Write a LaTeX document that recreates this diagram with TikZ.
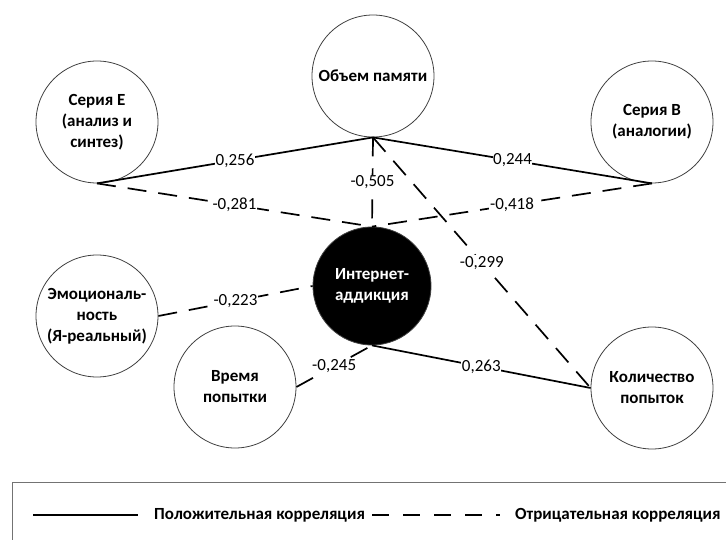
\documentclass[tikz,border=0pt]{standalone}
\usepackage{fontspec}
\setmainfont{Carlito}
\begin{document}
\begin{tikzpicture}[x=1pt,y=-1pt,
  factor/.style={circle,draw=black!75,line width=0.8pt,fill=white,minimum size=122pt,inner sep=0pt,align=center,font=\fontsize{17}{21}\selectfont\bfseries},
  addict/.style={factor,fill=black,text=white,minimum size=118pt},
  poscorr/.style={line width=1.7pt},
  negcorr/.style={line width=1.7pt,dash pattern=on 19pt off 12pt},
  coef/.style={fill=white,inner sep=0.6pt,font=\fontsize{17}{17}\selectfont},
  legendtext/.style={anchor=west,inner sep=0pt,font=\fontsize{17}{17}\selectfont\bfseries}]
\useasboundingbox (0,0) rectangle (726,540);
\clip (0,0) rectangle (726,540);
\node[factor] (seriesE) at (97,122) {Серия Е\\(анализ и\\синтез)};
\node[factor] (memory) at (373,76) {Объем памяти};
\node[factor] (seriesB) at (652,122) {Серия В\\(аналогии)};
\node[addict] (addict) at (372,286) {Интернет-\\аддикция};
\node[factor] (emotion) at (97,316) {Эмоциональ-\\ность\\(Я-реальный)};
\node[factor] (time) at (235,387) {Время\\попытки};
\node[factor] (tries) at (652,388) {Количество\\попыток};
\draw[poscorr] (seriesE.south) -- node[coef] {0,256} (memory.south);
\draw[poscorr] (memory.south) -- node[coef] {0,244} (seriesB.south);
\draw[negcorr] (seriesE.south) -- node[coef] {-0,281} (addict.north);
\draw[negcorr] (seriesB.south) -- node[coef] {-0,418} (addict.north);
\draw[negcorr] (memory.south) -- node[coef] {-0,505} (addict.north);
\draw[negcorr] (memory.south) -- node[coef] {-0,299} (tries.west);
\draw[negcorr] (emotion.east) -- node[coef] {-0,223} (addict.west);
\draw[negcorr] (time.east) -- node[coef] {-0,245} (addict.south);
\draw[poscorr] (addict.south) -- node[coef] {0,263} (tries.west);
% legend
\draw[black!55,line width=1pt] (12,482) rectangle (740,560);
\coordinate (posA) at (33,515);
\coordinate (posB) at (138,515);
\coordinate (negA) at (372,515);
\coordinate (negB) at (500,515);
\draw[poscorr] (posA) -- (posB);
\node[legendtext] (postext) at (154,515) {Положительная корреляция};
\draw[poscorr,dash pattern=on 17pt off 14pt] (negA) -- (negB);
\node[legendtext] (negtext) at (515,515) {Отрицательная корреляция};
\end{tikzpicture}
\end{document}
